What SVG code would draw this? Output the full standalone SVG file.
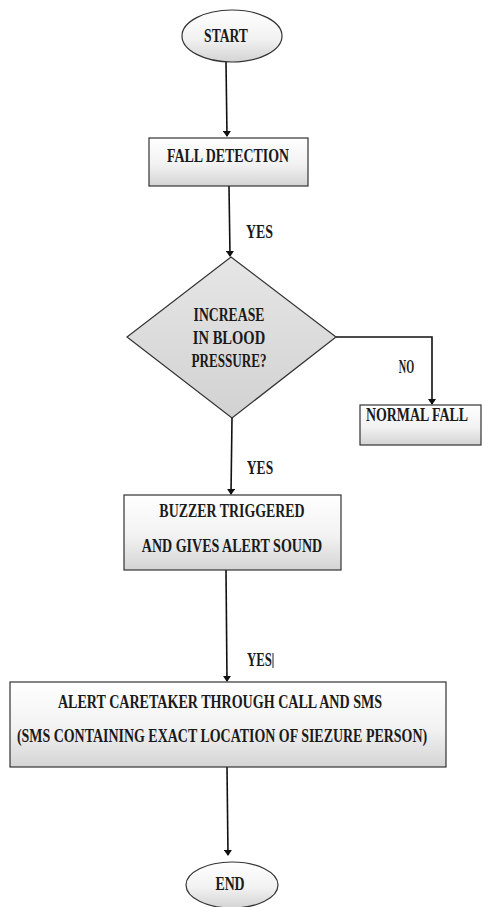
<svg xmlns="http://www.w3.org/2000/svg" width="482" height="907" viewBox="0 0 482 907">
<style>
.sh{stroke:#333;stroke-width:1.2;fill:url(#g)}
.t{font-family:"Liberation Serif","Times New Roman",serif;font-weight:bold;font-size:19px;fill:#1a1a1a;text-anchor:middle}
.c{stroke:#111;stroke-width:1.6;fill:none;marker-end:url(#ah)}
</style>
<defs>
<linearGradient id="g" x1="0" y1="0" x2="0" y2="1">
<stop offset="0" stop-color="#ffffff"/>
<stop offset="0.55" stop-color="#f2f2f2"/>
<stop offset="1" stop-color="#d4d4d4"/>
</linearGradient>
<linearGradient id="gd" x1="0" y1="0" x2="0" y2="1">
<stop offset="0" stop-color="#e6e6e6"/>
<stop offset="1" stop-color="#d2d2d2"/>
</linearGradient>
<marker id="ah" markerWidth="6" markerHeight="8" refX="5" refY="4" orient="auto" markerUnits="userSpaceOnUse">
<path d="M0,0 L6,4 L0,8 Z" fill="#111"/>
</marker>
</defs>
<g id="connectors">
<path class="c" d="M226,62 L227,136"/>
<path class="c" d="M229,186 L230,256"/>
<path class="c" d="M336,337 L432,337 L432,404"/>
<path class="c" d="M232,418 L231,494"/>
<path class="c" d="M226,570 L227,681"/>
<path class="c" d="M227,767 L228,855"/>
<line x1="273" y1="653" x2="273" y2="668" stroke="#222" stroke-width="1"/>
</g>
<g id="start">
<ellipse class="sh" cx="232" cy="36" rx="50" ry="26"/>
<text class="t" transform="translate(226,42) scale(0.73,1)" textLength="60" lengthAdjust="spacingAndGlyphs">START</text>
</g>
<g id="fall-detection">
<rect class="sh" x="149" y="138" width="159" height="48"/>
<text class="t" transform="translate(228,162) scale(0.73,1)" textLength="167" lengthAdjust="spacingAndGlyphs">FALL DETECTION</text>
</g>
<g id="label-yes1">
<text class="t" transform="translate(259.5,238) scale(0.73,1)" textLength="37" lengthAdjust="spacingAndGlyphs">YES</text>
</g>
<g id="decision">
<polygon points="231,257 336,337 232,418 127,337" stroke="#333" stroke-width="1.2" fill="url(#gd)"/>
<text class="t" transform="translate(229,321) scale(0.73,1)" textLength="97" lengthAdjust="spacingAndGlyphs">INCREASE</text>
<text class="t" transform="translate(229,344) scale(0.73,1)" textLength="99" lengthAdjust="spacingAndGlyphs">IN BLOOD</text>
<text class="t" transform="translate(229,367) scale(0.73,1)" textLength="103" lengthAdjust="spacingAndGlyphs">PRESSURE?</text>
</g>
<g id="label-no">
<text class="t" transform="translate(406.5,373) scale(0.73,1)" textLength="21" lengthAdjust="spacingAndGlyphs">NO</text>
</g>
<g id="normal-fall">
<rect class="sh" x="360" y="405" width="121" height="40"/>
<text class="t" transform="translate(417,421) scale(0.73,1)" textLength="140" lengthAdjust="spacingAndGlyphs">NORMAL FALL</text>
</g>
<g id="label-yes2">
<text class="t" transform="translate(260,474) scale(0.73,1)" textLength="36" lengthAdjust="spacingAndGlyphs">YES</text>
</g>
<g id="buzzer">
<rect class="sh" x="124" y="495" width="217" height="75"/>
<text class="t" transform="translate(232,517) scale(0.73,1)" textLength="199" lengthAdjust="spacingAndGlyphs">BUZZER TRIGGERED</text>
<text class="t" transform="translate(232,552) scale(0.73,1)" textLength="247" lengthAdjust="spacingAndGlyphs">AND GIVES ALERT SOUND</text>
</g>
<g id="label-yes3">
<text class="t" transform="translate(259.5,666) scale(0.73,1)" textLength="34" lengthAdjust="spacingAndGlyphs">YES</text>
</g>
<g id="alert">
<rect class="sh" x="10" y="682" width="436" height="85"/>
<text class="t" transform="translate(220,708) scale(0.73,1)" textLength="444" lengthAdjust="spacingAndGlyphs">ALERT CARETAKER THROUGH CALL AND SMS</text>
<text class="t" transform="translate(222,742) scale(0.73,1)" textLength="562" lengthAdjust="spacingAndGlyphs">(SMS CONTAINING EXACT LOCATION OF SIEZURE PERSON)</text>
</g>
<g id="end">
<ellipse class="sh" cx="232" cy="885" rx="46" ry="23"/>
<text class="t" transform="translate(230,890) scale(0.73,1)" textLength="40" lengthAdjust="spacingAndGlyphs">END</text>
</g>
</svg>
